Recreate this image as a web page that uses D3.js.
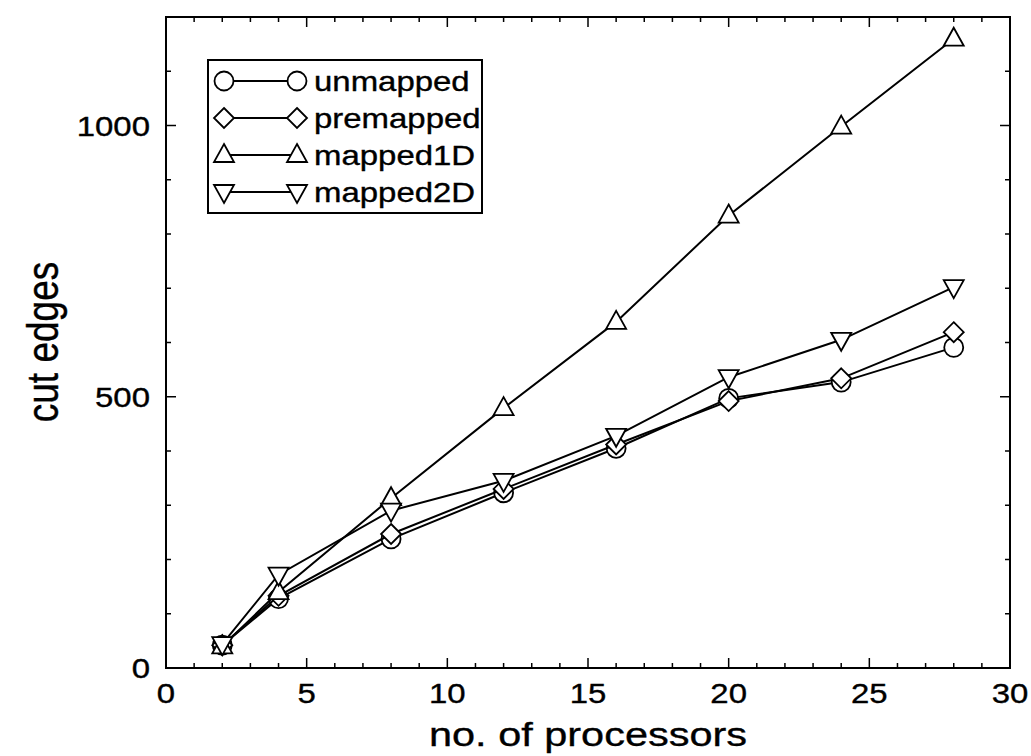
<!DOCTYPE html>
<html>
<head>
<meta charset="utf-8">
<script src="https://cdn.jsdelivr.net/npm/d3@7"></script>
<style>
  body { margin: 0; background: #fff; }
  svg text { font-family: "Liberation Sans", Arial, Helvetica, sans-serif; fill: #000; stroke: #000; stroke-width: 0.35px; }
</style>
</head>
<body>
<div id="chart"></div>
<script>
// data
const procs = [2, 4, 8, 12, 16, 20, 24, 28];
const unmapped = [42, 128, 238, 323, 405, 497, 527, 591];
const premapped = [42, 133, 247, 330, 412, 492, 534, 619];
const mapped1D = [40, 140, 313, 479, 638, 834, 998, 1160];
const mapped2D = [44, 172, 290, 345, 428, 536, 605, 702];
const seriesNames = ["unmapped", "premapped", "mapped1D", "mapped2D"];
const seriesSymbols = ["circle", "diamond", "up", "down"];
const xTicks = [0, 5, 10, 15, 20, 25, 30];
const yTicks = [0, 500, 1000];

const width = 1031, height = 756;
const plot = { left: 166, right: 1010, top: 17, bottom: 668 };
const stretch = 1.22; // text in the reference is wider than tall

const svg = d3.select("#chart").append("svg")
    .attr("width", width)
    .attr("height", height);

const x = d3.scaleLinear().domain([0, 30]).range([plot.left, plot.right]);
const y = d3.scaleLinear().domain([0, 1200]).range([plot.bottom, plot.top]);

// helper for horizontally stretched text
function addText(parent, px, py, str, size, anchor, rotate) {
    const g = parent.append("g")
        .attr("transform", `translate(${px},${py})` + (rotate ? ` rotate(${rotate})` : "") +
            (rotate ? ` scale(1,${stretch})` : ` scale(${stretch},1)`));
    return g.append("text")
        .attr("text-anchor", anchor)
        .style("font-size", size + "px")
        .text(str);
}

// frame
svg.append("rect")
    .attr("x", plot.left).attr("y", plot.top)
    .attr("width", plot.right - plot.left).attr("height", plot.bottom - plot.top)
    .attr("fill", "none").attr("stroke", "#000").attr("stroke-width", 2);

// ticks, inward on all four sides
const xMinor = d3.range(0, 31, 1);
const yMinor = d3.range(0, 1201, 100);
const ticks = svg.append("g").attr("stroke", "#000").attr("stroke-width", 1.5);
xMinor.forEach(v => {
    const len = v % 5 === 0 ? 10 : 5;
    ticks.append("line").attr("x1", x(v)).attr("x2", x(v)).attr("y1", plot.bottom).attr("y2", plot.bottom - len);
    ticks.append("line").attr("x1", x(v)).attr("x2", x(v)).attr("y1", plot.top).attr("y2", plot.top + len);
});
yMinor.forEach(v => {
    const len = v % 500 === 0 ? 10 : 5;
    ticks.append("line").attr("y1", y(v)).attr("y2", y(v)).attr("x1", plot.left).attr("x2", plot.left + len);
    ticks.append("line").attr("y1", y(v)).attr("y2", y(v)).attr("x1", plot.right).attr("x2", plot.right - len);
});

// tick labels
xTicks.forEach(v => addText(svg, x(v), 703, v, 27, "middle"));
yTicks.forEach(v => addText(svg, 150, y(v) + 10, v, 27, "end"));

// axis titles
addText(svg, (plot.left + plot.right) / 2, 746, "no. of processors", 34, "middle");
addText(svg, 58, 342, "cut edges", 37, "middle", -90);

// marker shapes
function drawSymbol(parent, type, cx, cy) {
    let s;
    if (type === "circle") {
        s = parent.append("circle").attr("cx", cx).attr("cy", cy).attr("r", 9.5);
    } else if (type === "diamond") {
        const r = 10;
        s = parent.append("path").attr("d", `M${cx},${cy - r}L${cx + r},${cy}L${cx},${cy + r}L${cx - r},${cy}Z`);
    } else if (type === "up") {
        s = parent.append("path").attr("d", `M${cx},${cy - 11}L${cx + 10},${cy + 7}L${cx - 10},${cy + 7}Z`);
    } else {
        s = parent.append("path").attr("d", `M${cx},${cy + 11}L${cx + 10},${cy - 7}L${cx - 10},${cy - 7}Z`);
    }
    s.attr("fill", "#fff").attr("stroke", "#000").attr("stroke-width", 1.8);
}

const allSeries = [unmapped, premapped, mapped1D, mapped2D];
const line = d3.line().x(d => x(d[0])).y(d => y(d[1]));

allSeries.forEach((vals, i) => {
    const pts = procs.map((p, j) => [p, vals[j]]);
    const g = svg.append("g");
    g.append("path")
        .attr("d", line(pts))
        .attr("fill", "none")
        .attr("stroke", "#000")
        .attr("stroke-width", 2);
    pts.forEach(p => drawSymbol(g, seriesSymbols[i], x(p[0]), y(p[1])));
});

// legend
const legend = svg.append("g");
legend.append("rect")
    .attr("x", 208).attr("y", 60)
    .attr("width", 274).attr("height", 153)
    .attr("fill", "#fff").attr("stroke", "#000").attr("stroke-width", 2);
seriesNames.forEach((name, i) => {
    const cy = 81 + i * 37;
    legend.append("line")
        .attr("x1", 224).attr("x2", 297)
        .attr("y1", cy).attr("y2", cy)
        .attr("stroke", "#000").attr("stroke-width", 2);
    drawSymbol(legend, seriesSymbols[i], 224, cy);
    drawSymbol(legend, seriesSymbols[i], 297, cy);
    addText(legend, 314, cy + 10, name, 27, "start");
});
</script>
</body>
</html>
